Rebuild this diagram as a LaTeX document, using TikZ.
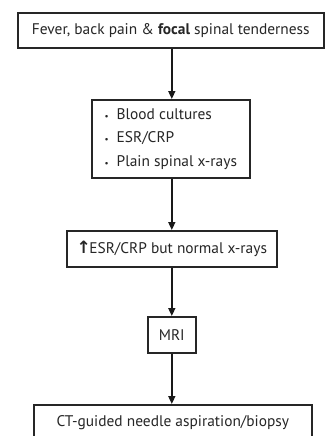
\documentclass[tikz,border=0pt]{standalone}
\usepackage{fontspec}
\setmainfont{PT Sans}
\newfontfamily\symfont{DejaVu Sans}
\usetikzlibrary{arrows.meta}
\tikzset{
  box/.style={draw=black!85, line width=1.6pt, inner sep=0pt, font=\fontsize{15.4}{18}\selectfont, text=black!85, anchor=north west},
  conn/.style={draw=black!90, line width=1.6pt, -{Triangle[length=8pt,width=7pt]}}
}
\begin{document}
\begin{tikzpicture}[x=1pt,y=-1pt]
\useasboundingbox[fill=white] (0,0) rectangle (325,436);
\node[box, minimum width=306pt, minimum height=35pt] (b1) at (17,12) {Fever, back pain \& \textbf{focal} spinal tenderness};
\node[box, minimum width=158pt, minimum height=78pt, align=left, font=\fontsize{15.4}{23.5}\selectfont] (b2) at (91,99)
  {{\small\textbullet}\hspace{8pt}Blood cultures\\{\small\textbullet}\hspace{8pt}ESR/CRP\\{\small\textbullet}\hspace{8pt}Plain spinal x-rays};
\node[box, minimum width=210pt, minimum height=36pt] (b3) at (66,230) {{\symfont\bfseries\fontsize{17}{18}\selectfont\char"2191}\kern-1.5pt ESR/CRP but normal x-rays};
\node[box, minimum width=48pt, minimum height=36pt] (b4) at (147,316) {MRI};
\node[box, minimum width=278pt, minimum height=36pt] (b5) at (33,404) {CT-guided needle aspiration/biopsy};
\draw[conn] (b1.south -| b4.south) -- (b2.north -| b4.south);
\draw[conn] (b2.south -| b4.south) -- (b3.north -| b4.south);
\draw[conn] (b3.south -| b4.south) -- (b4.north);
\draw[conn] (b4.south) -- (b5.north -| b4.south);
\end{tikzpicture}
\end{document}
